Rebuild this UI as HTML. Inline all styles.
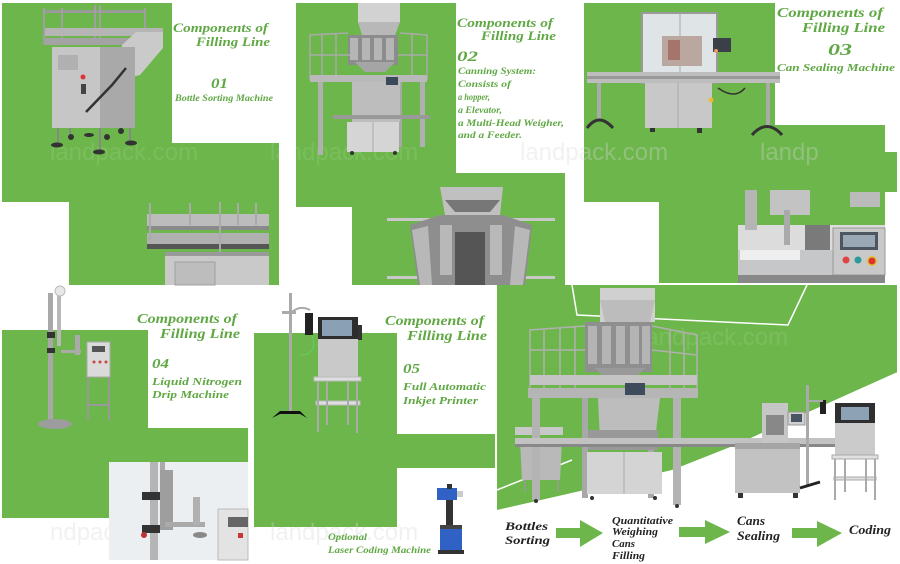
<!DOCTYPE html>
<html><head><meta charset="utf-8"><style>
html,body{margin:0;padding:0;background:#fff;}
svg{display:block;}
.h{font-family:"Liberation Serif",serif;font-style:italic;font-weight:bold;fill:#5fa843;}
.b{font-family:"Liberation Serif",serif;font-style:italic;font-weight:bold;fill:#222;}
.wm{font-family:"Liberation Sans",sans-serif;font-size:24px;fill:#fff;opacity:0.1;}
.wg{font-family:"Liberation Sans",sans-serif;font-size:24px;fill:#d8d8d8;opacity:0.35;}
</style></head><body>
<svg width="900" height="564" viewBox="0 0 900 564" xmlns="http://www.w3.org/2000/svg">
<rect width="900" height="564" fill="#fff"/>
<g fill="#6cb64b">
<rect x="2" y="3" width="170" height="199"/>
<rect x="172" y="143" width="107" height="59"/>
<rect x="69" y="202" width="210" height="83"/>
<rect x="296" y="3" width="160" height="204"/>
<rect x="456" y="173" width="109" height="34"/>
<rect x="352" y="207" width="213" height="78"/>
<rect x="584" y="3" width="191" height="199"/>
<rect x="775" y="125" width="110" height="77"/>
<rect x="775" y="152" width="122" height="40"/>
<rect x="659" y="202" width="226" height="81"/>
<rect x="2" y="330" width="146" height="188"/>
<rect x="148" y="428" width="100" height="34"/>
<rect x="254" y="333" width="143" height="194"/>
<rect x="397" y="434" width="98" height="34"/>
<polygon points="497,285 897,285 897,373 748,440 672,470 497,510"/>
</g>
<polyline points="572,285 577,315 788,325 807,285" fill="none" stroke="#fff" stroke-width="1.5"/>
<polyline points="497,490 572,460" fill="none" stroke="#fff" stroke-width="1.5"/>
<polyline points="897,373 748,440" fill="none" stroke="#fff" stroke-width="1.5"/>

<text class="wm" x="50" y="160">landpack.com</text>
<text class="wm" x="270" y="160">landpack.com</text>
<text class="wg" x="520" y="160">landpack.com</text>
<text class="wg" x="760" y="160">landp</text>
<text class="wm" x="640" y="345">landpack.com</text>
<text class="wg" x="50" y="540">ndpack.com</text>
<text class="wg" x="270" y="540">landpack.com</text>

<!-- Machine 01 -->
<g>
<rect x="43" y="10" width="103" height="3" fill="#9a9a9a"/>
<g stroke="#a0a0a0" stroke-width="2"><line x1="44" y1="8" x2="44" y2="45"/><line x1="62" y1="8" x2="62" y2="40"/><line x1="95" y1="5" x2="95" y2="45"/><line x1="100" y1="5" x2="100" y2="45"/><line x1="145" y1="8" x2="145" y2="35"/></g>
<rect x="45" y="28" width="118" height="8" fill="#b5b5b5"/>
<rect x="45" y="38" width="100" height="7" fill="#a3a3a3"/>
<polygon points="136,32 163,32 163,48 140,75 120,80 122,45" fill="#cacaca"/>
<rect x="52" y="47" width="83" height="81" fill="#c6c6c6"/>
<rect x="100" y="47" width="35" height="81" fill="#a9a9a9"/>
<rect x="58" y="55" width="20" height="15" fill="#b0b0b0"/>
<circle cx="83" cy="77" r="2.5" fill="#d33"/>
<rect x="81" y="84" width="5" height="10" fill="#444"/>
<path d="M126,68 L112,85 L86,112" stroke="#333" stroke-width="2.5" fill="none"/>
<g stroke="#888" stroke-width="2"><line x1="58" y1="128" x2="58" y2="145"/><line x1="100" y1="128" x2="100" y2="150"/><line x1="130" y1="128" x2="130" y2="142"/><line x1="70" y1="128" x2="70" y2="136"/></g>
<g fill="#333"><ellipse cx="57" cy="145" rx="6" ry="2.5"/><ellipse cx="99" cy="152" rx="6" ry="2.5"/><ellipse cx="131" cy="143" rx="6" ry="2.5"/><ellipse cx="89" cy="135" rx="5" ry="2"/><circle cx="71" cy="137" r="3"/><circle cx="107" cy="137" r="3"/><circle cx="121" cy="131" r="3"/></g>
</g>
<g>
<rect x="147" y="214" width="122" height="12" fill="#bcbcbc"/>
<rect x="147" y="226" width="122" height="4" fill="#8a8a8a"/>
<rect x="147" y="233" width="122" height="11" fill="#b0b0b0"/>
<rect x="147" y="244" width="122" height="5" fill="#555"/>
<g stroke="#aaa" stroke-width="2"><line x1="150" y1="203" x2="150" y2="240"/><line x1="190" y1="203" x2="190" y2="225"/><line x1="220" y1="202" x2="220" y2="258"/><line x1="238" y1="203" x2="238" y2="225"/><line x1="256" y1="203" x2="256" y2="225"/></g>
<rect x="165" y="252" width="104" height="33" fill="#c9c9c9"/>
<rect x="165" y="252" width="104" height="4" fill="#9a9a9a"/>
<rect x="175" y="262" width="40" height="23" fill="#bdbdbd" stroke="#a0a0a0"/>
</g>

<!-- Machine 02 -->
<g>
<rect x="358" y="3" width="42" height="20" fill="#d2d2d2"/>
<polygon points="358,22 400,22 395,35 362,35" fill="#b8b8b8"/>
<rect x="348" y="35" width="50" height="30" fill="#8c8c8c"/>
<g fill="#b5b5b5"><rect x="350" y="38" width="8" height="22"/><rect x="362" y="38" width="8" height="22"/><rect x="374" y="38" width="8" height="22"/><rect x="386" y="38" width="8" height="22"/></g>
<polygon points="355,62 395,62 385,72 365,72" fill="#a5a5a5"/>
<g stroke="#aaa" stroke-width="1.5" fill="none"><polyline points="310,80 310,35 348,33"/><polyline points="400,33 427,35 427,80"/><line x1="310" y1="55" x2="350" y2="55"/><line x1="398" y1="55" x2="427" y2="55"/><line x1="322" y1="35" x2="322" y2="78"/><line x1="336" y1="34" x2="336" y2="78"/><line x1="412" y1="34" x2="412" y2="78"/></g>
<rect x="310" y="75" width="117" height="7" fill="#b9b9b9"/>
<rect x="318" y="82" width="5" height="73" fill="#b0b0b0"/>
<rect x="420" y="82" width="5" height="65" fill="#b0b0b0"/>
<rect x="398" y="82" width="4" height="65" fill="#a8a8a8"/>
<rect x="352" y="82" width="48" height="40" fill="#bdbdbd"/>
<rect x="386" y="77" width="12" height="8" fill="#3a4a5a"/>
<rect x="333" y="115" width="97" height="4" fill="#999"/>
<rect x="347" y="122" width="52" height="30" fill="#d5d5d5"/>
<line x1="373" y1="122" x2="373" y2="152" stroke="#aaa"/>
<g fill="#333"><circle cx="352" cy="153" r="2"/><circle cx="395" cy="153" r="2"/></g>
</g>
<g>
<rect x="387" y="218" width="168" height="3" fill="#c8c8c8"/>
<rect x="387" y="276" width="168" height="3" fill="#c8c8c8"/>
<polygon points="440,187 503,187 500,215 445,215" fill="#c0c0c0"/>
<polygon points="410,225 440,215 503,215 532,225 525,285 418,285" fill="#8e8e8e"/>
<g fill="#b8b8b8"><polygon points="412,230 428,226 432,285 420,285"/><polygon points="515,226 530,230 523,285 510,285"/><rect x="440" y="225" width="12" height="50"/><rect x="490" y="225" width="12" height="50"/></g>
<rect x="455" y="232" width="30" height="53" fill="#555"/>
<polygon points="445,200 500,200 490,212 455,212" fill="#777"/>
</g>

<!-- Machine 03 -->
<g>
<rect x="642" y="13" width="75" height="70" fill="#dfe4e7" stroke="#9a9a9a" stroke-width="2"/>
<line x1="680" y1="13" x2="680" y2="83" stroke="#aaa"/>
<rect x="662" y="36" width="40" height="30" fill="#b9a7a0"/>
<rect x="668" y="40" width="12" height="20" fill="#a5756c"/>
<rect x="713" y="38" width="18" height="14" fill="#3a3f48"/>
<circle cx="716" cy="51" r="2" fill="#e96"/>
<rect x="587" y="72" width="193" height="11" fill="#bdbdbd"/>
<rect x="587" y="76" width="193" height="3" fill="#999"/>
<rect x="645" y="83" width="67" height="45" fill="#c8c8c8"/>
<line x1="678" y1="83" x2="678" y2="128" stroke="#aaa"/>
<circle cx="711" cy="100" r="2.5" fill="#eb3"/>
<rect x="597" y="83" width="4" height="37" fill="#aaa"/>
<path d="M587,128 Q599,112 613,128" stroke="#333" stroke-width="3" fill="none"/>
<rect x="766" y="83" width="4" height="42" fill="#aaa"/>
<path d="M752,135 Q767,118 782,135" stroke="#333" stroke-width="3" fill="none"/>
<path d="M718,88 Q735,100 745,88" stroke="#333" stroke-width="1.5" fill="none"/>
<g fill="#333"><rect x="650" y="128" width="5" height="4"/><rect x="697" y="128" width="5" height="5"/></g>
</g>
<g>
<rect x="738" y="225" width="147" height="58" fill="#dcdcdc"/>
<rect x="738" y="250" width="147" height="33" fill="#c5c7c9"/>
<rect x="745" y="190" width="12" height="40" fill="#b5b5b5"/>
<rect x="770" y="190" width="40" height="25" fill="#c3c3c3"/>
<rect x="784" y="210" width="6" height="35" fill="#aaa"/>
<rect x="850" y="192" width="30" height="15" fill="#bbb"/>
<rect x="805" y="225" width="25" height="25" fill="#7a7a7a"/>
<rect x="740" y="250" width="60" height="10" fill="#eee"/>
<rect x="833" y="228" width="52" height="47" fill="#c9c9c9" stroke="#999"/>
<rect x="840" y="232" width="38" height="18" fill="#4c5560"/>
<rect x="843" y="235" width="32" height="12" fill="#9aa8b5"/>
<circle cx="846" cy="260" r="3.5" fill="#d44"/>
<circle cx="858" cy="260" r="3.5" fill="#2a9a9a"/>
<circle cx="872" cy="261" r="5" fill="#e4c12c"/>
<circle cx="872" cy="261" r="3.5" fill="#d33"/>
<rect x="738" y="275" width="147" height="8" fill="#888"/>
</g>

<!-- Machine 04 -->
<g>
<rect x="48" y="293" width="5" height="128" fill="#a8a8a8"/>
<rect x="57" y="296" width="4" height="50" fill="#b8b8b8"/>
<circle cx="60" cy="291" r="5" fill="#e8e8e8" stroke="#bbb"/>
<rect x="47" y="332" width="8" height="6" fill="#333"/>
<rect x="47" y="348" width="8" height="5" fill="#333"/>
<rect x="61" y="350" width="20" height="3" fill="#aaa"/>
<rect x="75" y="335" width="5" height="20" fill="#aaa"/>
<ellipse cx="55" cy="424" rx="17" ry="5" fill="#9c9c9c"/>
<rect x="87" y="342" width="23" height="35" fill="#dadada" stroke="#aaa"/>
<rect x="92" y="346" width="13" height="6" fill="#555"/>
<g fill="#c44"><circle cx="94" cy="362" r="1.5"/><circle cx="100" cy="362" r="1.5"/><circle cx="106" cy="362" r="1.5"/></g>
<g stroke="#999" stroke-width="2"><line x1="88" y1="377" x2="88" y2="420"/><line x1="109" y1="377" x2="109" y2="420"/><line x1="88" y1="405" x2="109" y2="405"/></g>
</g>
<g>
<rect x="109" y="462" width="139" height="98" fill="#eceff2"/>
<rect x="150" y="462" width="8" height="98" fill="#b5b5b5"/>
<rect x="160" y="462" width="5" height="30" fill="#aaa"/>
<rect x="160" y="470" width="13" height="60" fill="#9e9e9e"/>
<rect x="142" y="492" width="18" height="8" fill="#333"/>
<rect x="142" y="525" width="18" height="8" fill="#333"/>
<circle cx="144" cy="535" r="3" fill="#b33"/>
<rect x="165" y="522" width="40" height="5" fill="#aaa"/>
<rect x="193" y="497" width="7" height="28" fill="#b0b0b0"/>
<ellipse cx="200" cy="535" rx="7" ry="3" fill="#888"/>
<rect x="218" y="509" width="30" height="51" fill="#e3e3e3" stroke="#bbb"/>
<rect x="228" y="517" width="20" height="10" fill="#666"/>
<rect x="238" y="533" width="5" height="5" fill="#c33"/>
</g>

<!-- Machine 05 -->
<g>
<rect x="289" y="293" width="3" height="120" fill="#aaa"/>
<rect x="282" y="311" width="14" height="3" fill="#aaa"/>
<path d="M292,312 Q300,305 310,310" stroke="#aaa" stroke-width="2" fill="none"/>
<rect x="305" y="313" width="8" height="22" fill="#222"/>
<path d="M312,335 Q318,355 300,355" stroke="#6c6" stroke-width="1" fill="none"/>
<path d="M272,418 L280,411 L300,411 L307,418 L300,414 L280,414 Z" fill="#111"/>
<rect x="318" y="317" width="40" height="61" fill="#c9c9c9"/>
<rect x="318" y="317" width="40" height="22" fill="#2d2d2d"/>
<rect x="322" y="320" width="30" height="16" fill="#8aa0b4"/>
<rect x="358" y="325" width="4" height="15" fill="#333"/>
<rect x="314" y="377" width="47" height="4" fill="#dedede" stroke="#bbb"/>
<rect x="316" y="401" width="44" height="4" fill="#dedede" stroke="#bbb"/>
<g stroke="#aaa" stroke-width="2"><line x1="318" y1="381" x2="318" y2="432"/><line x1="357" y1="381" x2="357" y2="433"/><line x1="327" y1="381" x2="327" y2="425"/><line x1="348" y1="381" x2="348" y2="425"/></g>
</g>
<g>
<rect x="437" y="488" width="20" height="12" fill="#2f62c4"/>
<rect x="457" y="491" width="6" height="6" fill="#ccc"/>
<rect x="447" y="484" width="5" height="5" fill="#333"/>
<rect x="446" y="500" width="7" height="25" fill="#333"/>
<rect x="440" y="525" width="22" height="4" fill="#444"/>
<rect x="440" y="529" width="22" height="21" fill="#2f62c4"/>
<rect x="438" y="550" width="26" height="4" fill="#333"/>
</g>

<!-- Panel 6 line -->
<g>
<rect x="515" y="427" width="48" height="8" fill="#c8c8c8"/>
<polygon points="520,440 562,440 560,480 522,480" fill="#b9b9b9"/>
<g stroke="#999" stroke-width="1.5"><line x1="525" y1="480" x2="525" y2="492"/><line x1="558" y1="480" x2="558" y2="492"/></g>
<rect x="600" y="288" width="55" height="34" fill="#d0d0d0"/>
<polygon points="600,300 655,300 650,322 605,322" fill="#bcbcbc"/>
<rect x="585" y="322" width="67" height="50" fill="#8f8f8f"/>
<g fill="#b4b4b4"><rect x="588" y="326" width="9" height="38"/><rect x="602" y="326" width="9" height="38"/><rect x="616" y="326" width="9" height="38"/><rect x="630" y="326" width="9" height="38"/><rect x="642" y="326" width="8" height="38"/></g>
<polygon points="595,368 645,368 635,378 605,378" fill="#9a9a9a"/>
<g stroke="#b0b0b0" stroke-width="1.5" fill="none"><polyline points="530,390 530,330 585,326"/><polyline points="652,326 697,335 697,390"/><line x1="530" y1="350" x2="585" y2="350"/><line x1="652" y1="350" x2="697" y2="355"/><line x1="544" y1="330" x2="544" y2="388"/><line x1="560" y1="328" x2="560" y2="388"/><line x1="575" y1="327" x2="575" y2="388"/><line x1="670" y1="330" x2="670" y2="388"/><line x1="684" y1="332" x2="684" y2="388"/></g>
<rect x="530" y="375" width="167" height="10" fill="#c4c4c4"/>
<rect x="528" y="388" width="170" height="10" fill="#b5b5b5"/>
<rect x="532" y="398" width="8" height="102" fill="#b3b3b3"/>
<rect x="673" y="398" width="8" height="107" fill="#b3b3b3"/>
<rect x="582" y="398" width="6" height="100" fill="#a8a8a8"/>
<rect x="648" y="398" width="6" height="100" fill="#a8a8a8"/>
<rect x="625" y="383" width="20" height="12" fill="#3d4b5c"/>
<polygon points="598,398 660,398 655,440 600,440" fill="#bdbdbd"/>
<rect x="588" y="430" width="70" height="20" fill="#999"/>
<rect x="635" y="438" width="16" height="8" fill="#333"/>
<rect x="515" y="438" width="320" height="8" fill="#c2c2c2"/>
<rect x="515" y="444" width="320" height="3" fill="#888"/>
<rect x="587" y="452" width="75" height="42" fill="#d4d4d4"/>
<line x1="624" y1="452" x2="624" y2="494" stroke="#aaa"/>
<g fill="#333"><circle cx="592" cy="498" r="2"/><circle cx="655" cy="498" r="2"/><circle cx="536" cy="501" r="2"/><circle cx="677" cy="506" r="2"/></g>
<rect x="762" y="403" width="26" height="40" fill="#c6c6c6"/>
<rect x="766" y="415" width="18" height="20" fill="#888"/>
<rect x="788" y="412" width="17" height="13" fill="#d0d0d0" stroke="#999"/>
<rect x="791" y="414" width="11" height="8" fill="#4a5563"/>
<rect x="735" y="443" width="65" height="50" fill="#c2c2c2"/>
<rect x="735" y="443" width="65" height="6" fill="#a5a5a5"/>
<g fill="#333"><rect x="738" y="493" width="5" height="5"/><rect x="793" y="493" width="5" height="5"/></g>
<rect x="806" y="385" width="3" height="100" fill="#aaa"/>
<rect x="820" y="400" width="6" height="14" fill="#222"/>
<rect x="807" y="400" width="16" height="2" fill="#aaa"/>
<path d="M800,488 L820,482" stroke="#222" stroke-width="3"/>
<rect x="835" y="403" width="40" height="52" fill="#cbcbcb"/>
<rect x="835" y="403" width="40" height="20" fill="#2f2f2f"/>
<rect x="841" y="407" width="28" height="13" fill="#8ea2b6"/>
<rect x="832" y="455" width="46" height="4" fill="#e0e0e0" stroke="#aaa"/>
<rect x="834" y="477" width="42" height="3" fill="#e0e0e0" stroke="#aaa"/>
<g stroke="#aaa" stroke-width="2"><line x1="835" y1="459" x2="835" y2="500"/><line x1="875" y1="459" x2="875" y2="500"/><line x1="845" y1="459" x2="845" y2="492"/><line x1="866" y1="459" x2="866" y2="492"/></g>
</g>

<g fill="#6cb64b">
<polygon points="556,528 580,528 580,520 603,533 580,547 580,538 556,538"/>
<polygon points="679,527 705,527 705,520 730,532 705,544 705,537 679,537"/>
<polygon points="792,528 817,528 817,521 842,533 817,547 817,538 792,538"/>
</g>

<g class="h">
<text x="173" y="32" font-size="13" textLength="95" lengthAdjust="spacingAndGlyphs">Components of</text>
<text x="196" y="46" font-size="13" textLength="74" lengthAdjust="spacingAndGlyphs">Filling Line</text>
<text x="211" y="88" font-size="15" textLength="17" lengthAdjust="spacingAndGlyphs">01</text>
<text x="175" y="101" font-size="9" textLength="98" lengthAdjust="spacingAndGlyphs">Bottle Sorting Machine</text>

<text x="457" y="27" font-size="13" textLength="96" lengthAdjust="spacingAndGlyphs">Components of</text>
<text x="481" y="40" font-size="13" textLength="75" lengthAdjust="spacingAndGlyphs">Filling Line</text>
<text x="457" y="61" font-size="15" textLength="21" lengthAdjust="spacingAndGlyphs">02</text>
<text x="458" y="74" font-size="9" textLength="78" lengthAdjust="spacingAndGlyphs">Canning System:</text>
<text x="458" y="87" font-size="9" textLength="53" lengthAdjust="spacingAndGlyphs">Consists of</text>
<text x="458" y="100" font-size="9" textLength="32" lengthAdjust="spacingAndGlyphs">a hopper,</text>
<text x="458" y="113" font-size="9" textLength="44" lengthAdjust="spacingAndGlyphs">a Elevator,</text>
<text x="458" y="126" font-size="9" textLength="106" lengthAdjust="spacingAndGlyphs">a Multi-Head Weigher,</text>
<text x="458" y="138" font-size="9" textLength="64" lengthAdjust="spacingAndGlyphs">and a Feeder.</text>

<text x="777" y="17" font-size="14" textLength="106" lengthAdjust="spacingAndGlyphs">Components of</text>
<text x="802" y="32" font-size="14" textLength="83" lengthAdjust="spacingAndGlyphs">Filling Line</text>
<text x="828" y="55" font-size="17" textLength="24" lengthAdjust="spacingAndGlyphs">03</text>
<text x="777" y="71" font-size="11" textLength="118" lengthAdjust="spacingAndGlyphs">Can Sealing Machine</text>

<text x="137" y="323" font-size="14" textLength="100" lengthAdjust="spacingAndGlyphs">Components of</text>
<text x="160" y="338" font-size="14" textLength="80" lengthAdjust="spacingAndGlyphs">Filling Line</text>
<text x="152" y="368" font-size="14" textLength="17" lengthAdjust="spacingAndGlyphs">04</text>
<text x="152" y="385" font-size="11" textLength="90" lengthAdjust="spacingAndGlyphs">Liquid Nitrogen</text>
<text x="152" y="398" font-size="11" textLength="77" lengthAdjust="spacingAndGlyphs">Drip Machine</text>

<text x="385" y="325" font-size="14" textLength="99" lengthAdjust="spacingAndGlyphs">Components of</text>
<text x="407" y="340" font-size="14" textLength="80" lengthAdjust="spacingAndGlyphs">Filling Line</text>
<text x="403" y="373" font-size="14" textLength="17" lengthAdjust="spacingAndGlyphs">05</text>
<text x="403" y="390" font-size="11" textLength="83" lengthAdjust="spacingAndGlyphs">Full Automatic</text>
<text x="403" y="404" font-size="11" textLength="75" lengthAdjust="spacingAndGlyphs">Inkjet Printer</text>

<text x="328" y="540" font-size="9.5" textLength="39" lengthAdjust="spacingAndGlyphs">Optional</text>
<text x="328" y="553" font-size="9.5" textLength="103" lengthAdjust="spacingAndGlyphs">Laser Coding Machine</text>
</g>
<g class="b">
<text x="505" y="530" font-size="12" textLength="43" lengthAdjust="spacingAndGlyphs">Bottles</text>
<text x="505" y="544" font-size="12" textLength="45" lengthAdjust="spacingAndGlyphs">Sorting</text>
<text x="612" y="524" font-size="10" textLength="61" lengthAdjust="spacingAndGlyphs">Quantitative</text>
<text x="612" y="535" font-size="10" textLength="46" lengthAdjust="spacingAndGlyphs">Weighing</text>
<text x="612" y="547" font-size="10" textLength="23" lengthAdjust="spacingAndGlyphs">Cans</text>
<text x="612" y="559" font-size="10" textLength="33" lengthAdjust="spacingAndGlyphs">Filling</text>
<text x="737" y="525" font-size="13" textLength="28" lengthAdjust="spacingAndGlyphs">Cans</text>
<text x="737" y="540" font-size="13" textLength="43" lengthAdjust="spacingAndGlyphs">Sealing</text>
<text x="849" y="534" font-size="13" textLength="42" lengthAdjust="spacingAndGlyphs">Coding</text>
</g>
</svg>
</body></html>
